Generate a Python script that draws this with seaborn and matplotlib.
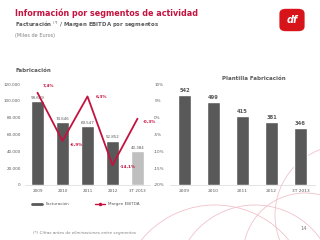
import numpy as np
import pandas as pd
import seaborn as sns
import matplotlib.pyplot as plt
from matplotlib.lines import Line2D
from matplotlib.patches import Ellipse, FancyBboxPatch

# Datos
periodos = ["2009", "2010", "2011", "2012", "3T 2013"]
facturacion = [99669, 74646, 69547, 52852, 40384]
margen_ebitda = [7.4, -6.9, 6.3, -14.1, -0.3]
plantilla = [542, 499, 415, 381, 346]

eje_izq = [0, 20000, 40000, 60000, 80000, 100000, 120000]
eje_der = [-20, -15, -10, -5, 0, 5, 10]

ROJO = "#C4123F"
GRIS = "#595959"
GRIS_CLARO = "#BFBFBF"
TEXTO = "#595959"

sns.set_theme(style="white")
plt.rcParams['font.family'] = ['DejaVu Sans']

W, H = 320, 240
fig = plt.figure(figsize=(3.2, 2.4), dpi=100)


def caja(x0, y0, x1, y1):
    # coordenadas en pixeles (origen arriba a la izquierda)
    return [x0 / W, 1 - y1 / H, (x1 - x0) / W, (y1 - y0) / H]


def fx(x):
    return x / W


def fy(y):
    return 1 - y / H


# Circulos decorativos
for cx, cy, r in [(305, 255, 62), (255, 285, 80), (345, 215, 70), (215, 300, 95)]:
    fig.add_artist(Ellipse((fx(cx), fy(cy)), 2 * r / W, 2 * r / H, transform=fig.transFigure,
                           fill=False, ec="#F0C2CB", lw=0.6, zorder=0))

# Titulos
fig.text(fx(15), fy(13), "Información por segmentos de actividad", color=ROJO,
         fontsize=5.8, fontweight="bold", va="center")
fig.text(fx(15), fy(25), "Facturación $^{(*)}$ / Margen EBITDA por segmentos", color=TEXTO,
         fontsize=3.9, fontweight="bold", va="center")
fig.text(fx(15), fy(35), "(Miles de Euros)", color="#808080", fontsize=3.6, va="center")

# Logo
fig.add_artist(FancyBboxPatch((fx(281), fy(30)), fx(22), 20 / H, boxstyle="round,pad=0.005,rounding_size=0.02",
                              transform=fig.transFigure, fc="#D7141A", ec="none"))
fig.text(fx(292), fy(20), "df", color="white", fontsize=7, fontweight="bold", style="italic",
         ha="center", va="center")

# Fabricacion
fig.text(fx(15), fy(70), "Fabricación", color=TEXTO, fontsize=4, fontweight="bold", va="center")

df = pd.DataFrame({"periodo": periodos, "facturacion": facturacion})
ax = fig.add_axes(caja(25, 84, 150, 185))
ax.set_facecolor("none")
sns.barplot(data=df, x="periodo", y="facturacion", hue="periodo",
            palette=[GRIS, GRIS, GRIS, GRIS, GRIS_CLARO], width=0.5, legend=False, ax=ax)
ax.set_xlim(-0.5, 4.5)
ax.set_ylim(0, 120000)
ax.set_yticks(eje_izq)
ax.set_yticklabels([f"{v:,}".replace(",", ".") for v in eje_izq])
ax.set_xlabel("")
ax.set_ylabel("")
ax.tick_params(axis="both", labelsize=3, colors=TEXTO, length=0, pad=3)
for s in ["top", "right", "left"]:
    ax.spines[s].set_visible(False)
ax.spines["bottom"].set_color("#D9D9D9")
ax.spines["bottom"].set_linewidth(0.5)
for i, v in enumerate(facturacion):
    ax.text(i, v + 1500, f"{v:,}".replace(",", "."), ha="center", va="bottom", fontsize=2.9, color=TEXTO)

ax2 = ax.twinx()
sns.lineplot(x=np.arange(len(periodos)), y=margen_ebitda, color=ROJO, lw=1.3, ax=ax2)
ax2.set_ylim(-20, 10)
ax2.set_yticks(eje_der)
ax2.set_yticklabels([f"{v}%" for v in eje_der])
ax2.tick_params(axis="y", labelsize=3, colors=TEXTO, length=0, pad=3)
for s in ["top", "right", "left", "bottom"]:
    ax2.spines[s].set_visible(False)
desplaz = [(4, 5), (5, -3), (6, 0), (5, -1), (4, -2)]
for i, (v, off) in enumerate(zip(margen_ebitda, desplaz)):
    ax2.annotate(f"{v}%".replace(".", ","), (i, v), xytext=off, textcoords="offset points",
                 ha="left", va="center", fontsize=3, color=ROJO, fontweight="bold")

handles = [Line2D([], [], color=GRIS, lw=2), Line2D([], [], color=ROJO, lw=1, marker="o", markersize=1.5)]
fig.legend(handles, ["Facturación", "Margen EBITDA"], loc="center", bbox_to_anchor=(fx(86), fy(204)),
           ncol=2, frameon=False, fontsize=3, handlelength=2.5, columnspacing=6, labelcolor=TEXTO)

# Plantilla Fabricacion
fig.text(fx(254), fy(78), "Plantilla Fabricación", color=TEXTO, fontsize=4, fontweight="bold",
         ha="center", va="center")
dp = pd.DataFrame({"periodo": periodos, "plantilla": plantilla})
axp = fig.add_axes(caja(170, 84, 315, 185))
axp.set_facecolor("none")
sns.barplot(data=dp, x="periodo", y="plantilla", color=GRIS, width=0.45, ax=axp)
axp.set_xlim(-0.5, 4.5)
axp.set_ylim(0, 608)
axp.set_yticks([])
axp.set_xlabel("")
axp.set_ylabel("")
axp.tick_params(axis="x", labelsize=3.2, colors=TEXTO, length=0, pad=3)
for s in ["top", "right", "left"]:
    axp.spines[s].set_visible(False)
axp.spines["bottom"].set_color("#D9D9D9")
axp.spines["bottom"].set_linewidth(0.5)
for i, v in enumerate(plantilla):
    axp.text(i, v + 10, str(v), ha="center", va="bottom", fontsize=3.7, color=TEXTO, fontweight="bold")

# Pie de pagina
fig.text(fx(33), fy(233), "(*) Cifras antes de eliminaciones entre segmentos", color="#808080",
         fontsize=3, style="italic", va="center")
fig.text(fx(300), fy(229), "14", color="#808080", fontsize=3.8, va="center")

fig.savefig("out.png", dpi=100)
